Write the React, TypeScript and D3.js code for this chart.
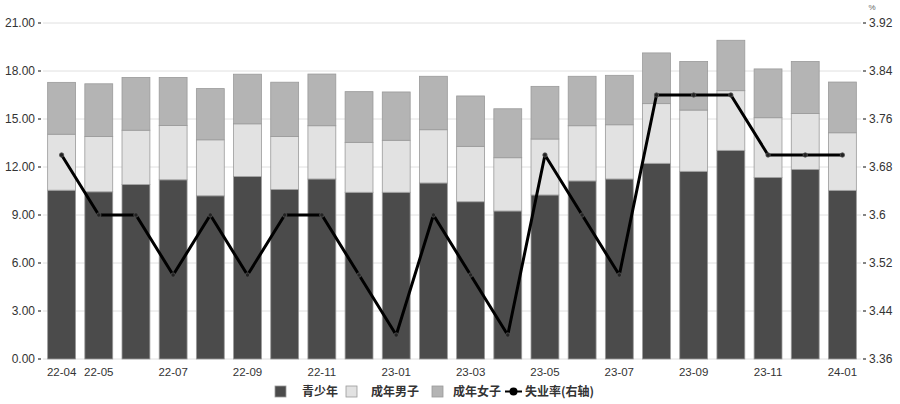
import React from "react";
import * as d3 from "d3";

const months = ["22-04","22-05","22-06","22-07","22-08","22-09","22-10","22-11","22-12","23-01","23-02","23-03","23-04","23-05","23-06","23-07","23-08","23-09","23-10","23-11","23-12","24-01"];
const tickMonths = ["22-04","22-05","22-07","22-09","22-11","23-01","23-03","23-05","23-07","23-09","23-11","24-01"];
const youth = [10.55,10.45,10.9,11.2,10.2,11.4,10.6,11.25,10.42,10.42,11.0,9.83,9.25,10.25,11.13,11.25,12.23,11.73,13.04,11.35,11.85,10.54];
const adultMale = [3.5,3.45,3.4,3.4,3.5,3.3,3.3,3.33,3.12,3.25,3.33,3.46,3.33,3.5,3.45,3.39,3.73,3.83,3.73,3.73,3.5,3.6];
const adultFemale = [3.24,3.3,3.3,3.0,3.2,3.1,3.4,3.23,3.17,3.02,3.34,3.15,3.06,3.29,3.09,3.09,3.17,3.04,3.15,3.05,3.25,3.17];
const unemployment = [3.7,3.6,3.6,3.5,3.6,3.5,3.6,3.6,3.5,3.4,3.6,3.5,3.4,3.7,3.6,3.5,3.8,3.8,3.8,3.7,3.7,3.7];
const leftTicks = [0,3,6,9,12,15,18,21];
const rightTicks = [3.36,3.44,3.52,3.6,3.68,3.76,3.84,3.92];
const seriesNames = ["青少年","成年男子","成年女子","失业率(右轴)"];

const colors = ["#4b4b4b", "#e2e2e2", "#b4b4b4"];

export default function App() {
  const W = 900, H = 404;
  const left = 43, right = 861, top = 23, bottom = 359;
  const x = d3.scaleBand<string>().domain(months).range([left, right]).paddingInner(0.25).paddingOuter(0.125);
  const yL = d3.scaleLinear().domain([0, 21]).range([bottom, top]);
  const yR = d3.scaleLinear().domain([3.36, 3.92]).range([bottom, top]);

  const rows = months.map((m, i) => ({ m, youth: youth[i], male: adultMale[i], female: adultFemale[i] }));
  const stack = d3.stack<any>().keys(["youth", "male", "female"])(rows);

  const line = d3.line<number>()
    .x((_, i) => (x(months[i]) as number) + x.bandwidth() / 2)
    .y((d) => yR(d));

  const font = "'Liberation Sans', Arial, sans-serif";
  const cjk = "'Noto Sans CJK SC', sans-serif";

  const legendItems = [
    { x: 275, label: seriesNames[0], color: colors[0], tx: 302 },
    { x: 346, label: seriesNames[1], color: colors[1], tx: 371 },
    { x: 432, label: seriesNames[2], color: colors[2], tx: 453 },
  ];

  return (
    <svg width={W} height={H} style={{ position: "absolute", left: 0, top: 0, background: "#fff" }}>
      {/* grid */}
      {leftTicks.map((t) => (
        <line key={"g" + t} x1={left} x2={right} y1={yL(t)} y2={yL(t)} stroke="#e0e0e0" strokeWidth={1} />
      ))}
      {/* bars */}
      {stack.map((s, si) => (
        <g key={si}>
          {s.map((d, i) => (
            <rect key={i}
              x={x(months[i])}
              width={x.bandwidth()}
              y={yL(d[1])}
              height={yL(d[0]) - yL(d[1])}
              fill={colors[si]}
              stroke="#9a9a9a"
              strokeWidth={0.8} />
          ))}
        </g>
      ))}
      {/* left axis */}
      {leftTicks.map((t) => (
        <g key={"l" + t}>
          <line x1={38} x2={41} y1={yL(t)} y2={yL(t)} stroke="#333" strokeWidth={1.2} />
          <text x={35} y={yL(t) + 4} textAnchor="end" fontFamily={font} fontSize={12} fill="#333">{t.toFixed(2)}</text>
        </g>
      ))}
      {/* right axis */}
      {rightTicks.map((t) => (
        <g key={"r" + t}>
          <line x1={863} x2={866} y1={yR(t)} y2={yR(t)} stroke="#333" strokeWidth={1.2} />
          <text x={869} y={yR(t) + 4} textAnchor="start" fontFamily={font} fontSize={12} fill="#333">{String(t)}</text>
        </g>
      ))}
      <text x={872} y={10} textAnchor="middle" fontFamily={font} fontSize={8} fill="#666">%</text>
      {/* x labels */}
      {tickMonths.map((m) => (
        <text key={m} x={(x(m) as number) + x.bandwidth() / 2} y={376} textAnchor="middle" fontFamily={font} fontSize={11.5} fill="#333">{m}</text>
      ))}
      {/* line */}
      <path d={line(unemployment) || ""} fill="none" stroke="#000" strokeWidth={3} strokeLinejoin="round" />
      {unemployment.map((v, i) => (
        <circle key={i} cx={(x(months[i]) as number) + x.bandwidth() / 2} cy={yR(v)} r={2.2} fill="#222" stroke="#555" strokeWidth={0.8} />
      ))}
      {/* legend */}
      {legendItems.map((it) => (
        <g key={it.label}>
          <rect x={it.x} y={386} width={11} height={11} fill={it.color} stroke="#9a9a9a" strokeWidth={0.8} />
          <text x={it.tx} y={396} fontFamily={cjk} fontSize={12} fontWeight={700} fill="#333">{it.label}</text>
        </g>
      ))}
      <line x1={505} x2={522} y1={391.5} y2={391.5} stroke="#000" strokeWidth={2} />
      <circle cx={513.5} cy={391.5} r={4} fill="#000" />
      <text x={525} y={396} fontFamily={cjk} fontSize={12} fontWeight={700} fill="#333">{seriesNames[3]}</text>
    </svg>
  );
}
